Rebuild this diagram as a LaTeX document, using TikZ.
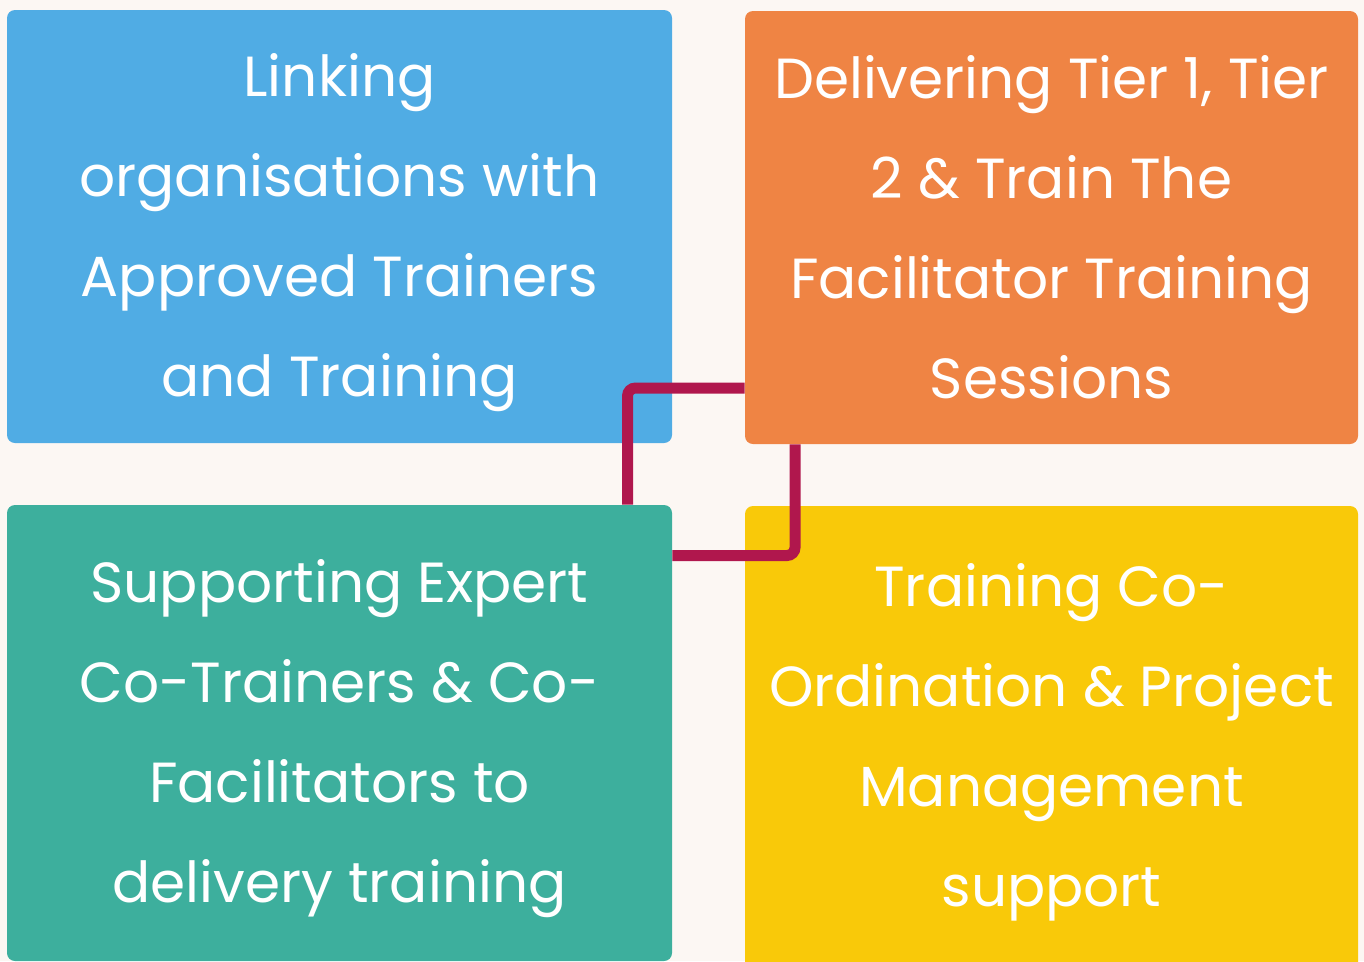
\documentclass[tikz,border=0pt]{standalone}
\usepackage{fontspec}
\setmainfont{Poppins}
\usetikzlibrary{positioning}

\definecolor{bgcream}{HTML}{FCF7F3}
\definecolor{boxblue}{HTML}{50ACE4}
\definecolor{boxorange}{HTML}{EF8444}
\definecolor{boxteal}{HTML}{3DAF9D}
\definecolor{boxyellow}{HTML}{F9C909}
\definecolor{linkred}{HTML}{B0174D}

\tikzset{
  tile/.style={rectangle, rounded corners=6pt, inner sep=0pt},
  tiletext/.style={text=white, align=center, inner sep=0pt, yshift=-4.5pt,
    font=\fontsize{42.4}{75}\selectfont},
  link/.style={draw=linkred, line width=8.25pt, rounded corners=6pt}
}

\begin{document}
\begin{tikzpicture}[x=0.75pt, y=-0.75pt]
        % Page in pixel units, y going down
        \useasboundingbox (0,0) rectangle (1364,961);
        \fill[bgcream] (0,0) rectangle (1364,961);
        \clip (0,0) rectangle (1364,961);

        % The four tiles
        \node[tile, fill=boxblue, minimum width=498.75pt, minimum height=324.75pt]
          (linking) at (339.5,226.5) {};
        \node[tile, fill=boxorange, minimum width=459.75pt, minimum height=324.75pt]
          (delivering) at (1051.5,227.5) {};
        \node[tile, fill=boxteal, minimum width=498.75pt, minimum height=342pt]
          (supporting) at (339.5,733) {};
        \node[tile, fill=boxyellow, minimum width=459.75pt, minimum height=348pt]
          (coordination) at (1051.5,738) {};

        % Texts of the tiles
        \node[tiletext] (linkingtext) at (linking.center)
          {Linking\\organisations with\\Approved Trainers\\and Training};
        \node[tiletext, yshift=4.5pt] (deliveringtext) at (delivering.center)
          {Delivering Tier 1, Tier\\2 \& Train The\\Facilitator Training\\Sessions};
        \node[tiletext] (supportingtext) at (supporting.center)
          {Supporting Expert\\Co-Trainers \& Co-\\Facilitators to\\delivery training};
        \node[tiletext, yshift=1.5pt] (coordinationtext) at (coordination.center)
          {Training Co-\\Ordination \& Project\\Management\\support};

        % Bends of the two connectors
        \coordinate (bendA) at (627.5,388);
        \coordinate (bendB) at (795,555.5);

        % Connectors between the tiles
        \draw[link] (delivering.west |- bendA) -- (bendA) -- (bendA |- supporting.north);
        \draw[link] (bendB |- delivering.south) -- (bendB) -- (supporting.east |- bendB);
    \end{tikzpicture}
\end{document}
